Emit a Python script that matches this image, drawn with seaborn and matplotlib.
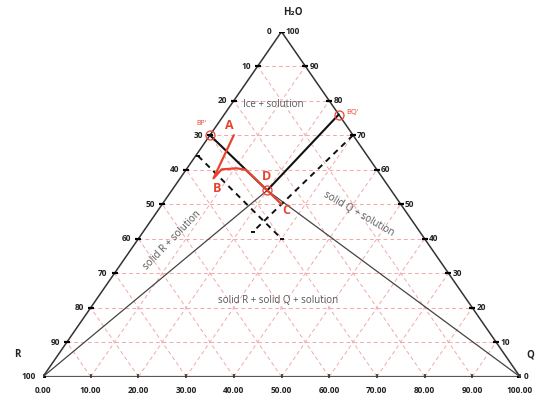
import matplotlib
matplotlib.use("Agg")
import matplotlib.pyplot as plt
import seaborn as sns

# all points are (Q %, H2O %); R = 100 - Q - H2O
grid_levels = [10, 20, 30, 40, 50, 60, 70, 80, 90]
left_labels = ["0", "10", "20", "30", "40", "50", "60", "70", "80", "90", "100"]
right_labels = ["100", "90", "80", "70", "60", "50", "40", "30", "20", "10", "0"]
bottom_labels = ["0.00", "10.00", "20.00", "30.00", "40.00", "50.00",
                 "60.00", "70.00", "80.00", "90.00", "100.00"]
edge_levels = [100, 90, 80, 70, 60, 50, 40, 30, 20, 10, 0]

# solubility curves BP' -> D -> BQ'
sol_q = [0, 20, 24]
sol_w = [70, 54, 76]
# tie lines R corner -> D -> Q corner
tie_q = [0, 20, 100]
tie_w = [0, 54, 0]
# dashed construction lines
dash1_q = [0.5, 30]
dash1_w = [64, 40]
dash2_q = [30, 23]
dash2_w = [70, 42]
# crystallisation path A -> B -> D -> C
path_q = [5, 7, 7.4, 10.4, 12.5, 20, 25]
path_w = [70, 57.5, 60.1, 60.4, 60, 54, 50]


def to_xy(q, w):
    return [a + b / 2 for a, b in zip(q, w)], list(w)


sns.set_theme(style="white")
plt.rcParams["font.family"] = ["Open Sans", "DejaVu Sans"]

fig = plt.figure(figsize=(5.35, 3.96), dpi=100)
ax = fig.add_axes([43 / 535, (396 - 376.7) / 396, 477 / 535, 345 / 396])
ax.set_xlim(0, 100)
ax.set_ylim(0, 100)
ax.axis("off")

grid_kw = dict(color="#f2a8a8", lw=0.7, linestyle=(0, (4, 3)), zorder=1)
for g in grid_levels:
    # constant H2O
    ax.plot([g / 2, 100 - g / 2], [g, g], **grid_kw)
    # constant Q
    x, y = to_xy([g, g], [0, 100 - g])
    ax.plot(x, y, **grid_kw)
    # constant R
    x, y = to_xy([100 - g, 0], [0, 100 - g])
    ax.plot(x, y, **grid_kw)

# triangle edges
ax.plot([0, 50, 100], [0, 100, 0], color="#333333", lw=1.1, zorder=3)
ax.plot([0, 100], [0, 0], color="#555555", lw=1.6, zorder=3)

# ticks and tick labels
lbl_kw = dict(va="center", fontsize=6, fontweight="bold", color="#222222")
lx, ly = to_xy([0] * len(edge_levels), edge_levels)
ax.plot(lx, ly, "_", color="black", ms=5, mew=1.6, zorder=4)
for x, y, t in zip(lx, ly, left_labels):
    ax.annotate(t, (x, y), xytext=(-5 if t != "0" else -7, 0), textcoords="offset points",
                ha="right", **lbl_kw)
rx, ry = to_xy([100 - w for w in edge_levels], edge_levels)
ax.plot(rx, ry, "_", color="black", ms=5, mew=1.6, zorder=4)
for x, y, t in zip(rx, ry, right_labels):
    ax.annotate(t, (x, y), xytext=(3, 0), textcoords="offset points", ha="left", **lbl_kw)
bx = [i * 10 for i in range(11)]
ax.plot(bx, [0] * 11, "|", color="#333333", ms=5, mew=1.2, zorder=4)
for x, t in zip(bx, bottom_labels):
    ax.annotate(t, (x, 0), xytext=(0, -10), textcoords="offset points", ha="center", **lbl_kw)

# phase boundaries
x, y = to_xy(tie_q, tie_w)
sns.lineplot(x=x, y=y, sort=False, estimator=None, color="#444444", lw=0.9, ax=ax, zorder=5)
x, y = to_xy(sol_q, sol_w)
sns.lineplot(x=x, y=y, sort=False, estimator=None, color="#111111", lw=1.5, ax=ax, zorder=6)
for dq, dw in [(dash1_q, dash1_w), (dash2_q, dash2_w)]:
    x, y = to_xy(dq, dw)
    sns.lineplot(x=x, y=y, sort=False, estimator=None, color="#111111", lw=1.4,
                 linestyle=(0, (3, 2.5)), ax=ax, zorder=6)
    ax.plot(x, y, "_", color="black", ms=3, mew=1.3, zorder=7)

# crystallisation path
x, y = to_xy(path_q, path_w)
sns.lineplot(x=x, y=y, sort=False, estimator=None, color="#e8432f", lw=1.6, ax=ax, zorder=8)

# BP' / BQ' / D markers
x, y = to_xy([sol_q[0], sol_q[2], sol_q[1]], [sol_w[0], sol_w[2], sol_w[1]])
ax.plot(x, y, "o", ms=6.5, mfc="none", mec="#e8432f", mew=0.9, zorder=9)

red_kw = dict(color="#e8432f", fontweight="bold", fontsize=9, ha="center", va="center", zorder=10)
ax.text(39.0, 72.9, "A", **red_kw)
ax.text(36.4, 54.6, "B", **red_kw)
ax.text(51.1, 48.3, "C", **red_kw)
ax.text(46.9, 58.0, "D", **red_kw)
ax.text(33.3, 73.4, "BP'", color="#e8432f", fontsize=5, ha="center", va="center")
ax.text(63.6, 76.5, "BQ'", color="#e8432f", fontsize=5.5, ha="left", va="center")

grey_kw = dict(color="#555555", fontsize=7, ha="center", va="center", zorder=10)
ax.text(48.2, 79.0, "Ice + solution", **grey_kw)
ax.text(27.0, 39.6, "solid R + solution", rotation=46, rotation_mode="anchor", **grey_kw)
ax.text(66.1, 47.2, "solid Q + solution", rotation=-30, rotation_mode="anchor", **grey_kw)
ax.text(49.2, 22.0, "solid R + solid Q + solution", **grey_kw)

corner_kw = dict(color="#222222", fontsize=7, fontweight="bold", va="center", clip_on=False)
ax.text(52.4, 105.7, "H\u2082O", ha="center", **corner_kw)
ax.text(-5.4, 6.3, "R", ha="center", **corner_kw)
ax.text(102.9, 6.3, "Q", ha="right", **corner_kw)

fig.savefig("out.png", dpi=100)
